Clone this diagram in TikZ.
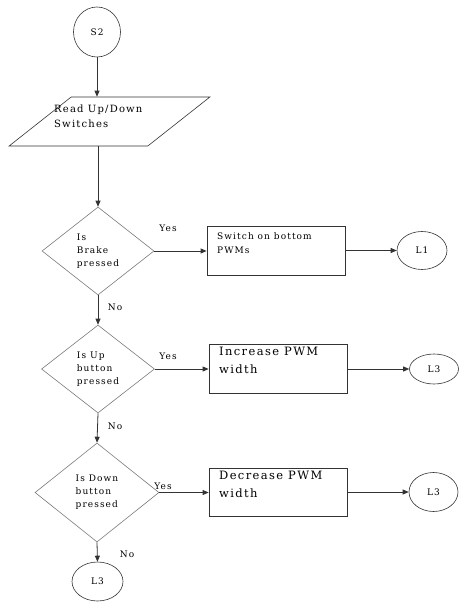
\documentclass[tikz,border=0pt]{standalone}
\usepackage{fontspec}
\setmainfont{DejaVu Serif}
\newfontfamily\flowfont[LetterSpace=12]{DejaVu Serif}
\usetikzlibrary{arrows.meta,shapes.geometric,positioning}
\definecolor{flowline}{HTML}{333333}
\definecolor{decgray}{HTML}{7A7A7A}

\tikzset{
    flow/.style={-{Triangle[length=6pt,width=5pt]}, flowline, line width=0.8pt},
    decision/.style={diamond, draw=decgray, line width=0.6pt, inner sep=0pt,
        align=left, font=\flowfont\fontsize{9}{13}\selectfont},
    procbox/.style={rectangle, draw=flowline, line width=0.8pt, minimum width=138pt, minimum height=49pt},
    terminal/.style={ellipse, draw=flowline, line width=0.6pt, inner sep=0pt,
        font=\flowfont\fontsize{9}{10}\selectfont},
    smalltext/.style={align=left, inner sep=0pt, font=\flowfont\fontsize{9}{14}\selectfont},
    bigtext/.style={align=left, inner sep=0pt, font=\flowfont\fontsize{11.5}{18}\selectfont},
    answer/.style={inner sep=0pt, font=\flowfont\fontsize{9}{10}\selectfont},
}

\begin{document}
\begin{tikzpicture}[x=1pt,y=-1pt]
    \useasboundingbox (0,0) rectangle (459,604);

    % start and input
    \node[terminal, minimum width=47pt, minimum height=50pt] (s2) at (97,32) {S2};
    \node[trapezium, trapezium left angle=51, trapezium right angle=129, trapezium stretches=true,
        draw=flowline, line width=0.6pt, minimum width=201pt, minimum height=49pt] (read) at (109.5,121.5) {};
    \node[smalltext, anchor=north west, font=\flowfont\fontsize{10}{15}\selectfont] (readtxt) at (54,105) {Read Up/Down\\Switches};

    % decisions
    \node[decision, minimum width=112pt, minimum height=88pt] (brake) at (98,251) {Is\\Brake\\pressed};
    \node[decision, minimum width=113pt, minimum height=88pt] (up) at (98,369) {Is Up\\button\\pressed};
    \node[decision, minimum width=124pt, minimum height=99pt] (down) at (97,492.5) {Is Down\\button\\pressed};

    % actions
    \node[procbox] (bottom) at (276,250.5) {};
    \node[smalltext, anchor=north west] (bottomtxt) at (217,232) {Switch on bottom\\PWMs};
    \node[procbox] (incr) at (278,369) {};
    \node[bigtext, anchor=north west] (incrtxt) at (219,347) {Increase PWM\\width};
    \node[procbox, minimum height=48pt] (decr) at (278,492) {};
    \node[bigtext, anchor=north west] (decrtxt) at (219,471) {Decrease PWM\\width};

    % connectors
    \node[terminal, minimum width=50pt, minimum height=38pt] (l1) at (422,250.5) {L1};
    \node[terminal, minimum width=49pt, minimum height=30pt] (l3a) at (434,369) {L3};
    \node[terminal, minimum width=49pt, minimum height=39pt] (l3b) at (433.5,492) {L3};
    \node[terminal, minimum width=51pt, minimum height=39pt] (l3c) at (97.5,581.5) {L3};

    % arrows
    \draw[flow] (s2.south) -- (s2.south |- read.north);
    \draw[flow] (brake.north |- read.south) -- (brake.north);
    \draw[flow] (brake.south) -- (up.north);
    \draw[flow] (up.south) -- (down.north);
    \draw[flow] (down.south) -- (l3c.north);

    \draw[flow] (brake.east) -- (bottom.west |- brake.east);
    \draw[flow] (up.east) -- (incr.west |- up.east);
    \draw[flow] (down.east) -- (decr.west |- down.east);
    \draw[flow] (bottom.east) -- (l1.west);
    \draw[flow] (incr.east) -- (l3a.west);
    \draw[flow] (decr.east) -- (l3b.west);

    % labels
    \node[answer] (yes1) at (168,228) {Yes};
    \node[answer] (no1) at (115,307) {No};
    \node[answer] (yes2) at (168,356) {Yes};
    \node[answer] (no2) at (115,426) {No};
    \node[answer] (yes3) at (163,486) {Yes};
    \node[answer] (no3) at (127,554) {No};
\end{tikzpicture}
\end{document}
